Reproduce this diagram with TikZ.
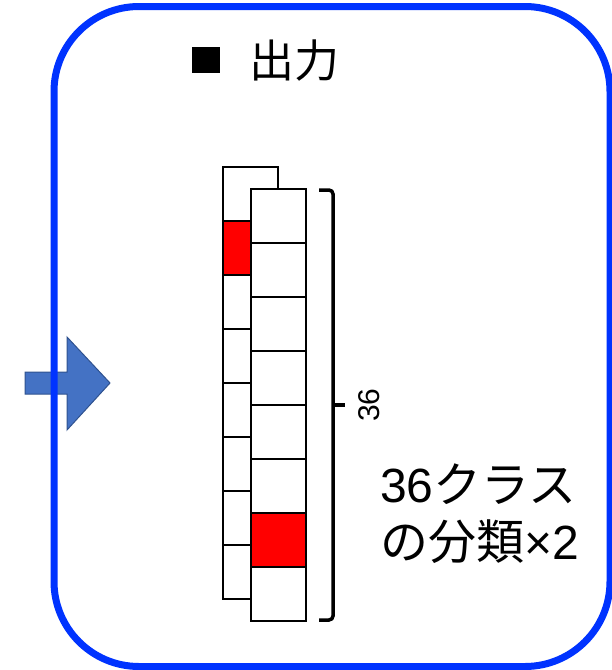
\documentclass[tikz,border=0pt]{standalone}
\usepackage{fontspec}
\setmainfont{Noto Sans CJK JP}
\newfontfamily\latinfont{Liberation Sans}
\definecolor{frameblue}{RGB}{0,51,255}
\definecolor{arrowfill}{RGB}{68,114,196}
\definecolor{arrowline}{RGB}{47,82,143}
\definecolor{cellred}{RGB}{255,0,0}
\begin{document}
\begin{tikzpicture}[x=1pt,y=-1pt,
  cell/.style={draw=black,line width=2.5pt,fill=white},
  redcell/.style={draw=black,line width=2.5pt,fill=cellred},
  label/.style={inner sep=0pt,text=black}]
\useasboundingbox (0,0) rectangle (612,670);
% block arrow
\filldraw[fill=arrowfill,draw=arrowline,line width=1pt]
  (25,372) -- (67,372) -- (67,337) -- (110,383) -- (67,430) -- (67,394) -- (25,394) -- cycle;
% frame
\draw[frameblue,line width=7pt,rounded corners=85pt] (54,6.5) rectangle (610,666.5);
% title
\fill[black] (192,47) rectangle (220,73);
\node[label,font=\fontsize{45}{50}\selectfont,anchor=center] (title) at (294,61) {出力};
% back column
\foreach \k in {0,...,7}{
  \ifnum\k=1
    \draw[redcell] (223,{167+54*\k}) rectangle (278,{221+54*\k});
  \else
    \draw[cell] (223,{167+54*\k}) rectangle (278,{221+54*\k});
  \fi
}
% front column
\foreach \k in {0,...,7}{
  \ifnum\k=6
    \draw[redcell] (251,{189+54*\k}) rectangle (306,{243+54*\k});
  \else
    \draw[cell] (251,{189+54*\k}) rectangle (306,{243+54*\k});
  \fi
}
% brace
\draw[line width=3.5pt,rounded corners=4pt] (319,190) -- (333,190) -- (333,620) -- (319,620);
\draw[line width=3.5pt] (333,405) -- (345,405);
\node[label,font=\latinfont\fontsize{30}{34}\selectfont,rotate=90] (count) at (369,405) {36};
% description
\node[label,font=\fontsize{48}{57}\selectfont,align=left,anchor=west] (desc) at (380,514) {{\latinfont 36}クラス\\の分類{\latinfont ×2}};
\end{tikzpicture}
\end{document}
